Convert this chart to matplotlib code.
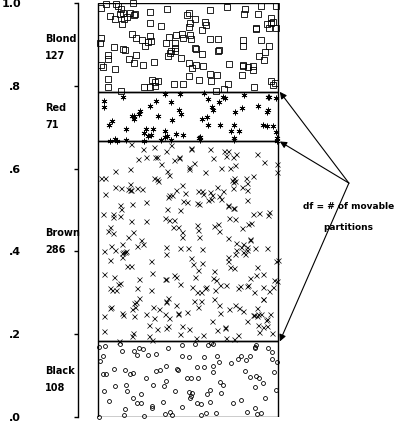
import numpy as np
import matplotlib
matplotlib.use("Agg")
import matplotlib.pyplot as plt

# hair colour counts, bottom to top
hair = ["Black", "Brown", "Red", "Blond"]
counts = [108, 286, 71, 127]
markers = ["o", "x", (6, 2, 0), "s"]
marker_sizes = [2.8, 3.6, 4.2, 4.0]

yticks = [0.0, 0.2, 0.4, 0.6, 0.8, 1.0]
ytick_labels = [".0", ".2", ".4", ".6", ".8", "1.0"]

total = sum(counts)
props = [c / total for c in counts]
bottoms = np.concatenate([[0], np.cumsum(props)[:-1]])

fig = plt.figure(figsize=(4.01, 4.22), dpi=100)
ax = fig.add_axes([78 / 401, 5 / 422, 322 / 401, 414 / 422])

ax.bar(0.5, props, bottom=bottoms, width=1.0, fill=False,
       edgecolor="black", linewidth=1.0)

# jitter the observations inside each band
rng = np.random.default_rng(7)
for name, n, p, b, m, ms in zip(hair, counts, props, bottoms, markers, marker_sizes):
    xs = rng.uniform(0.0, 1.0, n)
    ys = b + rng.uniform(0.0, p, n)
    if m == "x" or isinstance(m, tuple):
        ax.plot(xs, ys, linestyle="none", marker=m, markersize=ms,
                color="black", markeredgewidth=0.5, clip_on=False)
    else:
        ax.plot(xs, ys, linestyle="none", marker=m, markersize=ms,
                markerfacecolor="none", markeredgecolor="black",
                markeredgewidth=0.6, clip_on=False)
    mid = b + p / 2
    ax.text(-0.295, mid + 0.02, name, fontsize=7, fontweight="bold",
            ha="left", va="center")
    ax.text(-0.295, mid - 0.02, str(n), fontsize=7, fontweight="bold",
            ha="left", va="center")

ax.set_xlim(-0.111, 1.678)
ax.set_ylim(0, 1)
ax.set_yticks(yticks)
ax.set_yticklabels(ytick_labels, fontsize=8, fontweight="bold")
ax.tick_params(axis="y", length=3, width=1, pad=38)
ax.set_xticks([])
for s in ["top", "right", "bottom"]:
    ax.spines[s].set_visible(False)
ax.spines["left"].set_linewidth(1.0)

# arrows to the movable partitions
tail = (1.394, 0.565)
for b in bottoms[1:]:
    ax.annotate("", xy=(1.01, b), xytext=tail,
                arrowprops=dict(arrowstyle="-|>", color="black", lw=0.8,
                                mutation_scale=10, shrinkA=0, shrinkB=0),
                annotation_clip=False)
ax.text(1.39, 0.508, "df = # of movable", fontsize=6.5, fontweight="bold",
        ha="center", va="center")
ax.text(1.39, 0.457, "partitions", fontsize=6.5, fontweight="bold",
        ha="center", va="center")

fig.savefig("out.png", dpi=100)
